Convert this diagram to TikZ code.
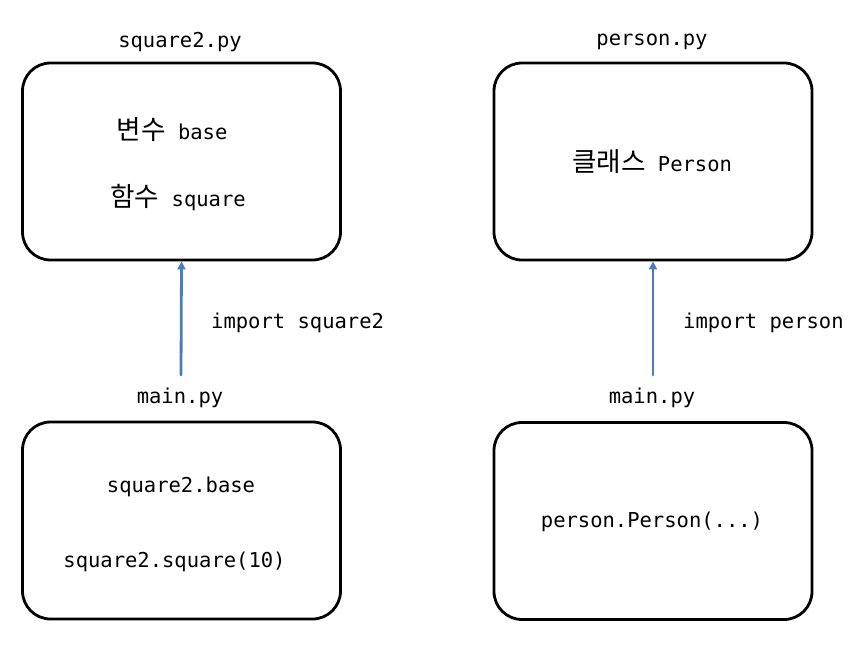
\documentclass[tikz,border=0pt]{standalone}
\usepackage{fontspec}
\setmonofont{DejaVu Sans Mono}
\newfontfamily\kofont[Scale=1.3]{Noto Sans CJK KR}
\usetikzlibrary{arrows.meta}
\definecolor{arrowblue}{HTML}{4A7EBB}
\begin{document}
\begin{tikzpicture}[x=1pt,y=-1pt,line join=round,line cap=round]
	\tikzset{box style/.style={draw,line width=2.8pt,rounded corners=28pt,minimum width=318pt,minimum height=197pt},
		code style/.style={font=\ttfamily\fontsize{20.5}{24}\selectfont,inner sep=2pt},
		import arrow/.style={draw=arrowblue,line width=2.8pt,-{Triangle[width=8pt,length=8pt]}}}
	\useasboundingbox (0,0) rectangle (868,647);
	%% the two modules
	\node[box style] (sqbox) at (181.5,161.5) {};
	\node[box style] (psbox) at (653,161.5) {};
	\node[code style] (sqfile) at (180,42) {square2.py};
	\node[code style] (psfile) at (652,42) {person.py};
	\node[code style] (sqvar) at (172,130) {{\kofont 변수} base};
	\node[code style] (sqfunc) at (178,198) {{\kofont 함수} square};
	\node[code style] (psclass) at (652,162) {{\kofont 클래스} Person};
	%% the two main files
	\node[box style] (mainAbox) at (181.5,520.5) {};
	\node[box style] (mainBbox) at (653,521) {};
	\node[code style] (mainA) at (180,398) {main.py};
	\node[code style] (mainB) at (652,398) {main.py};
	\node[code style] (sqbase) at (181,487) {square2.base};
	\node[code style] (sqcall) at (174.5,562) {square2.square(10)};
	\node[code style] (pscall) at (652,522) {person.Person(...)};
	%% imports
	\coordinate (srcA) at (181,375);
	\coordinate (srcB) at (653,375);
	\draw[import arrow] (srcA) -- (sqbox.south);
	\draw[import arrow] (srcB) -- (psbox.south);
	\node[code style,anchor=west] (impA) at (209,323) {import square2};
	\node[code style,anchor=west] (impB) at (681,323) {import person};
\end{tikzpicture}
\end{document}
